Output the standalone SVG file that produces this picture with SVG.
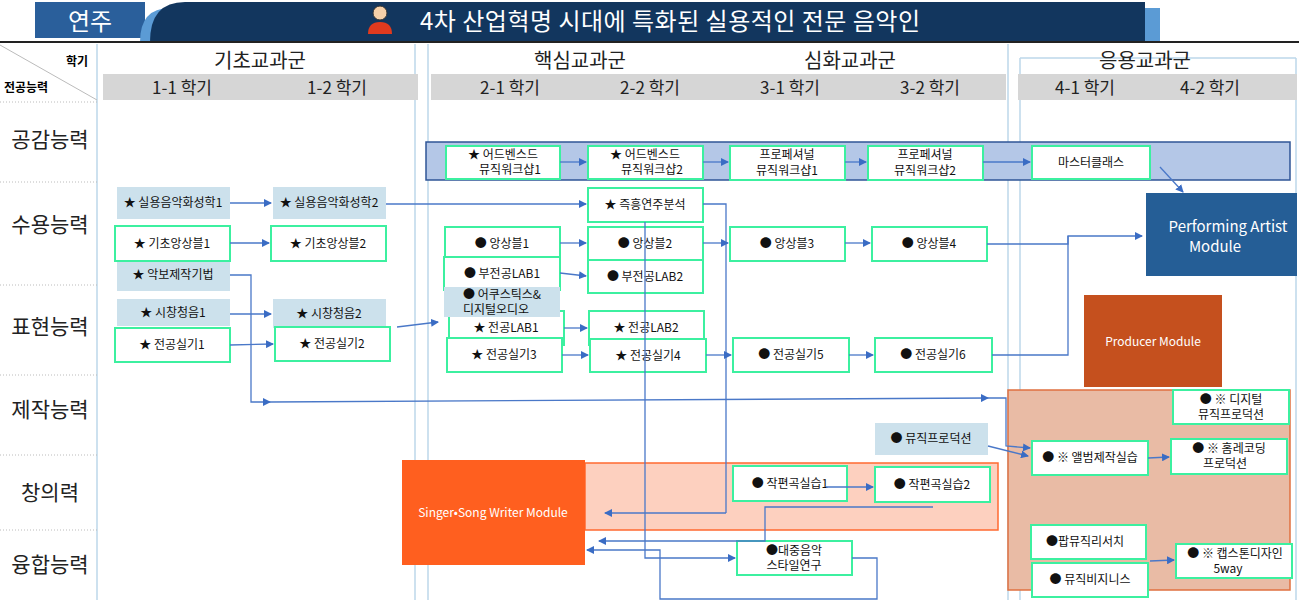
<svg xmlns="http://www.w3.org/2000/svg" width="1299" height="600" viewBox="0 0 1299 600">
<defs>
<marker id="ar" markerWidth="8" markerHeight="8" refX="7" refY="4" orient="auto" markerUnits="userSpaceOnUse"><path d="M0,0 L8,4 L0,8 z" fill="#3a6cc4"/></marker>
<style>
text{font-family:"Noto Sans CJK KR","Noto Sans",sans-serif;}
.n rect{fill:#fff;stroke:#3cf0a0;stroke-width:2}
.l rect{fill:#cce1ec}
.n text,.l text{font-size:12px;text-anchor:middle;fill:#111}
.c path{fill:none;stroke:#4a78c8;stroke-width:1.3}
.c .a{marker-end:url(#ar)}
.g{stroke:#bcd7ea;stroke-width:1.5}
.sep{stroke:#bbb;stroke-dasharray:1 2}
.row{font-size:21px;text-anchor:middle;fill:#222}
.sem{font-size:17px;text-anchor:middle;fill:#222}
.grp{font-size:20px;text-anchor:middle;fill:#222}
</style>
</defs>
<rect width="1299" height="600" fill="#fff"/>
<!-- header -->
<rect x="35" y="2" width="110" height="36" fill="#2a5f9b"/>
<text x="90" y="30" font-size="24" fill="#fff" text-anchor="middle">연주</text>
<path d="M140,42 Q140,8 170,8 L1160,8 L1160,42 z" fill="#5b9bd5"/>
<path d="M150,42 Q150,2 185,2 L1145,2 L1145,42 z" fill="#12365e"/>
<circle cx="380" cy="13" r="7" fill="#f5d0a9" stroke="#333"/>
<path d="M368,34 Q368,22 380,22 Q392,22 392,34 z" fill="#e03a1e"/>
<text x="420" y="30" font-size="24" fill="#fff" textLength="500">4차 산업혁명 시대에 특화된 실용적인 전문 음악인</text>
<line x1="0" y1="42" x2="1299" y2="42" stroke="#222" stroke-width="2"/>
<!-- grid -->
<g id="grid">
<line class="g" x1="97" y1="44" x2="97" y2="600"/>
<line class="g" x1="415" y1="44" x2="415" y2="600"/>
<line class="g" x1="428" y1="44" x2="428" y2="600"/>
<line class="g" x1="1008" y1="44" x2="1008" y2="600"/>
<line class="g" x1="1020" y1="58" x2="1020" y2="600"/>
<line class="g" x1="1020" y1="58" x2="1296" y2="58"/>
<line class="g" x1="1296" y1="58" x2="1296" y2="600"/>
<line x1="0" y1="45" x2="97" y2="100" stroke="#bbb"/>
<line class="sep" x1="0" y1="102" x2="97" y2="102"/>
<line class="sep" x1="0" y1="182" x2="97" y2="182"/>
<line class="sep" x1="0" y1="285" x2="97" y2="285"/>
<line class="sep" x1="0" y1="375" x2="97" y2="375"/>
<line class="sep" x1="0" y1="455" x2="97" y2="455"/>
<line class="sep" x1="0" y1="530" x2="97" y2="530"/>
<text x="66" y="66" font-size="12" font-weight="bold">학기</text>
<text x="4" y="92" font-size="12" font-weight="bold">전공능력</text>
<rect x="103" y="74" width="315" height="26" fill="#d6d6d6"/>
<rect x="431" y="74" width="575" height="26" fill="#d6d6d6"/>
<rect x="1018" y="74" width="279" height="26" fill="#d6d6d6"/>
<text class="grp" x="260" y="68">기초교과군</text>
<text class="grp" x="580" y="68">핵심교과군</text>
<text class="grp" x="850" y="68">심화교과군</text>
<text class="grp" x="1145" y="68">응용교과군</text>
<text class="sem" x="182" y="94">1-1 학기</text>
<text class="sem" x="337" y="94">1-2 학기</text>
<text class="sem" x="510" y="94">2-1 학기</text>
<text class="sem" x="650" y="94">2-2 학기</text>
<text class="sem" x="790" y="94">3-1 학기</text>
<text class="sem" x="930" y="94">3-2 학기</text>
<text class="sem" x="1085" y="94">4-1 학기</text>
<text class="sem" x="1210" y="94">4-2 학기</text>
<text class="row" x="50" y="147">공감능력</text>
<text class="row" x="50" y="232">수용능력</text>
<text class="row" x="50" y="334">표현능력</text>
<text class="row" x="50" y="417">제작능력</text>
<text class="row" x="50" y="500">창의력</text>
<text class="row" x="50" y="572">융합능력</text>
</g>
<!-- areas -->
<rect x="426" y="142" width="864" height="38" fill="#b4c7e7" stroke="#2f5597" stroke-width="1.5"/>
<rect x="585" y="463" width="413" height="67" fill="#fdd0bf" stroke="#ff6a30" stroke-width="1.5"/>
<rect x="1008" y="390" width="282" height="200" fill="#e9bba5" stroke="#e07040" stroke-width="1.5"/>
<g id="pa"><rect x="1146" y="193" width="151" height="83" fill="#255e96"/><text x="1228" y="232" font-size="15" fill="#fff" text-anchor="middle" font-family="Open Sans,sans-serif">Performing Artist</text><text x="1215" y="252" font-size="15" fill="#fff" text-anchor="middle" font-family="Open Sans,sans-serif">Module</text></g>
<g id="pm"><rect x="1084" y="295" width="138" height="92" fill="#c5501e"/><text x="1153" y="346" font-size="12" fill="#fff" text-anchor="middle" font-family="Open Sans,sans-serif">Producer Module</text></g>
<g id="ss"><rect x="402" y="460" width="183" height="105" fill="#ff5f1f"/><text x="493" y="517" font-size="12" fill="#fff" text-anchor="middle" font-family="Open Sans,sans-serif">Singer•Song Writer Module</text></g>
<!-- light nodes -->
<g class="l" id="h1"><rect x="117" y="187" width="113" height="32"/><text x="173" y="207">★ 실용음악화성학1</text></g>
<g class="l" id="h2"><rect x="273" y="187" width="113" height="32"/><text x="329" y="207">★ 실용음악화성학2</text></g>
<g class="l" id="akbo"><rect x="117" y="258" width="113" height="33"/><text x="173" y="279">★ 악보제작기법</text></g>
<g class="l" id="sc1"><rect x="117" y="299" width="113" height="27"/><text x="173" y="317">★ 시창청음1</text></g>
<g class="l" id="sc2"><rect x="273" y="299" width="113" height="29"/><text x="329" y="318">★ 시창청음2</text></g>
<g class="l" id="mp"><rect x="875" y="423" width="113" height="32"/><text x="931" y="443">● 뮤직프로덕션</text></g>
<!-- green nodes -->
<g class="n" id="ad1"><rect x="446" y="146" width="114" height="33"/><text x="503" y="159">★ 어드벤스드</text><text x="510" y="174">뮤직워크샵1</text></g>
<g class="n" id="ad2"><rect x="588" y="146" width="115" height="33"/><text x="645" y="159">★ 어드벤스드</text><text x="652" y="174">뮤직워크샵2</text></g>
<g class="n" id="pr1"><rect x="730" y="146" width="115" height="34"/><text x="787" y="159">프로페셔널</text><text x="787" y="175">뮤직워크샵1</text></g>
<g class="n" id="pr2"><rect x="868" y="146" width="115" height="34"/><text x="925" y="159">프로페셔널</text><text x="925" y="175">뮤직워크샵2</text></g>
<g class="n" id="mc"><rect x="1032" y="146" width="118" height="33"/><text x="1091" y="167">마스터클래스</text></g>
<g class="n" id="ge1"><rect x="115" y="226" width="115" height="35"/><text x="172" y="248">★ 기초앙상블1</text></g>
<g class="n" id="ge2"><rect x="271" y="226" width="115" height="35"/><text x="328" y="248">★ 기초앙상블2</text></g>
<g class="n" id="sk1"><rect x="115" y="328" width="115" height="34"/><text x="172" y="349">★ 전공실기1</text></g>
<g class="n" id="sk2"><rect x="275" y="327" width="115" height="34"/><text x="332" y="348">★ 전공실기2</text></g>
<g class="n" id="imp"><rect x="588" y="188" width="115" height="34"/><text x="645" y="209">★ 즉흥연주분석</text></g>
<g class="n" id="e1"><rect x="445" y="227" width="115" height="33"/><text x="502" y="248">● 앙상블1</text></g>
<g class="n" id="e2"><rect x="588" y="227" width="115" height="33"/><text x="645" y="248">● 앙상블2</text></g>
<g class="n" id="lab1"><rect x="444" y="257" width="116" height="33"/><text x="502" y="278">● 부전공LAB1</text></g>
<g class="n" id="lab2"><rect x="588" y="260" width="115" height="33"/><text x="645" y="281">● 부전공LAB2</text></g>
<g class="n" id="jl1"><rect x="449" y="311" width="115" height="34"/><text x="506" y="332">★ 전공LAB1</text></g>
<g class="l" id="acou"><rect x="444" y="287" width="116" height="30"/><text x="502" y="299">● 어쿠스틱스&amp;</text><text x="496" y="314">디지털오디오</text></g>
<g class="n" id="jl2"><rect x="589" y="311" width="115" height="34"/><text x="646" y="332">★ 전공LAB2</text></g>
<g class="n" id="sk3"><rect x="447" y="338" width="115" height="34"/><text x="504" y="359">★ 전공실기3</text></g>
<g class="n" id="sk4"><rect x="590" y="339" width="116" height="33"/><text x="648" y="360">★ 전공실기4</text></g>
<g class="n" id="e3"><rect x="730" y="227" width="115" height="34"/><text x="787" y="248">● 앙상블3</text></g>
<g class="n" id="e4"><rect x="872" y="227" width="115" height="34"/><text x="929" y="248">● 앙상블4</text></g>
<g class="n" id="sk5"><rect x="733" y="338" width="116" height="34"/><text x="791" y="359">● 전공실기5</text></g>
<g class="n" id="sk6"><rect x="875" y="338" width="117" height="34"/><text x="933" y="359">● 전공실기6</text></g>
<g class="n" id="cp1"><rect x="733" y="466" width="114" height="35"/><text x="790" y="488">● 작편곡실습1</text></g>
<g class="n" id="cp2"><rect x="875" y="467" width="115" height="35"/><text x="932" y="489">● 작편곡실습2</text></g>
<g class="n" id="pop"><rect x="737" y="541" width="115" height="34"/><text x="794" y="555">●대중음악</text><text x="794" y="570">스타일연구</text></g>
<g class="n" id="dig"><rect x="1173" y="390" width="116" height="34"/><text x="1231" y="404">● ※ 디지털</text><text x="1231" y="419">뮤직프로덕션</text></g>
<g class="n" id="alb"><rect x="1032" y="441" width="116" height="34"/><text x="1090" y="462">● ※ 앨범제작실습</text></g>
<g class="n" id="home"><rect x="1171" y="439" width="116" height="35"/><text x="1229" y="453">● ※ 홈레코딩</text><text x="1225" y="468">프로덕션</text></g>
<g class="n" id="popr"><rect x="1031" y="525" width="115" height="34"/><text x="1085" y="546">●팝뮤직리서치</text></g>
<g class="n" id="biz"><rect x="1032" y="563" width="116" height="34"/><text x="1090" y="584">● 뮤직비지니스</text></g>
<g class="n" id="cap"><rect x="1176" y="544" width="116" height="34"/><text x="1235" y="558">● ※ 캡스톤디자인</text><text x="1228" y="573">5way</text></g>
<!-- connectors -->
<g class="c" id="connectors">
<path class="a" d="M230,203 L271,203"/>
<path class="a" d="M230,243 L269,243"/>
<path class="a" d="M230,314 L271,314"/>
<path class="a" d="M230,345 L273,344"/>
<path class="a" d="M386,204 L586,204"/>
<path d="M703,204 L726,204 L726,513"/>
<path class="a" d="M726,513 L605,513"/>
<path class="a" d="M230,275 L251,275 L251,402 L270,402"/>
<path class="a" d="M270,402 L988,398"/>
<path class="a" d="M988,398 L1006,398 L1006,446 L1030,448"/>
<path class="a" d="M988,446 L1028,456"/>
<path class="a" d="M397,327 L438,322"/>
<path class="a" d="M560,162 L586,162"/>
<path class="a" d="M703,162 L728,162"/>
<path class="a" d="M845,162 L866,162"/>
<path class="a" d="M983,162 L1030,162"/>
<path class="a" d="M1160,167 L1183,192"/>
<path class="a" d="M560,243 L586,243"/>
<path class="a" d="M703,243 L728,243"/>
<path class="a" d="M845,243 L870,243"/>
<path class="a" d="M987,244 L1068,244 L1068,236 L1142,236"/>
<path d="M992,355 L1068,355 L1068,236"/>
<path class="a" d="M560,273 L586,276"/>
<path class="a" d="M564,328 L587,328"/>
<path class="a" d="M562,355 L588,355"/>
<path class="a" d="M706,355 L731,355"/>
<path class="a" d="M849,355 L873,355"/>
<path class="a" d="M826,487 L873,487"/>
<path class="a" d="M645,222 L645,558 L735,558"/>
<path class="a" d="M852,558 L877,558 L877,599 L660,599 L660,550 L587,550"/>
<path class="a" d="M933,507 L765,507 L765,541 L599,541"/>
<path class="a" d="M1148,458 L1169,457"/>
<path class="a" d="M1150,561 L1174,560"/>
</g>
</svg>
